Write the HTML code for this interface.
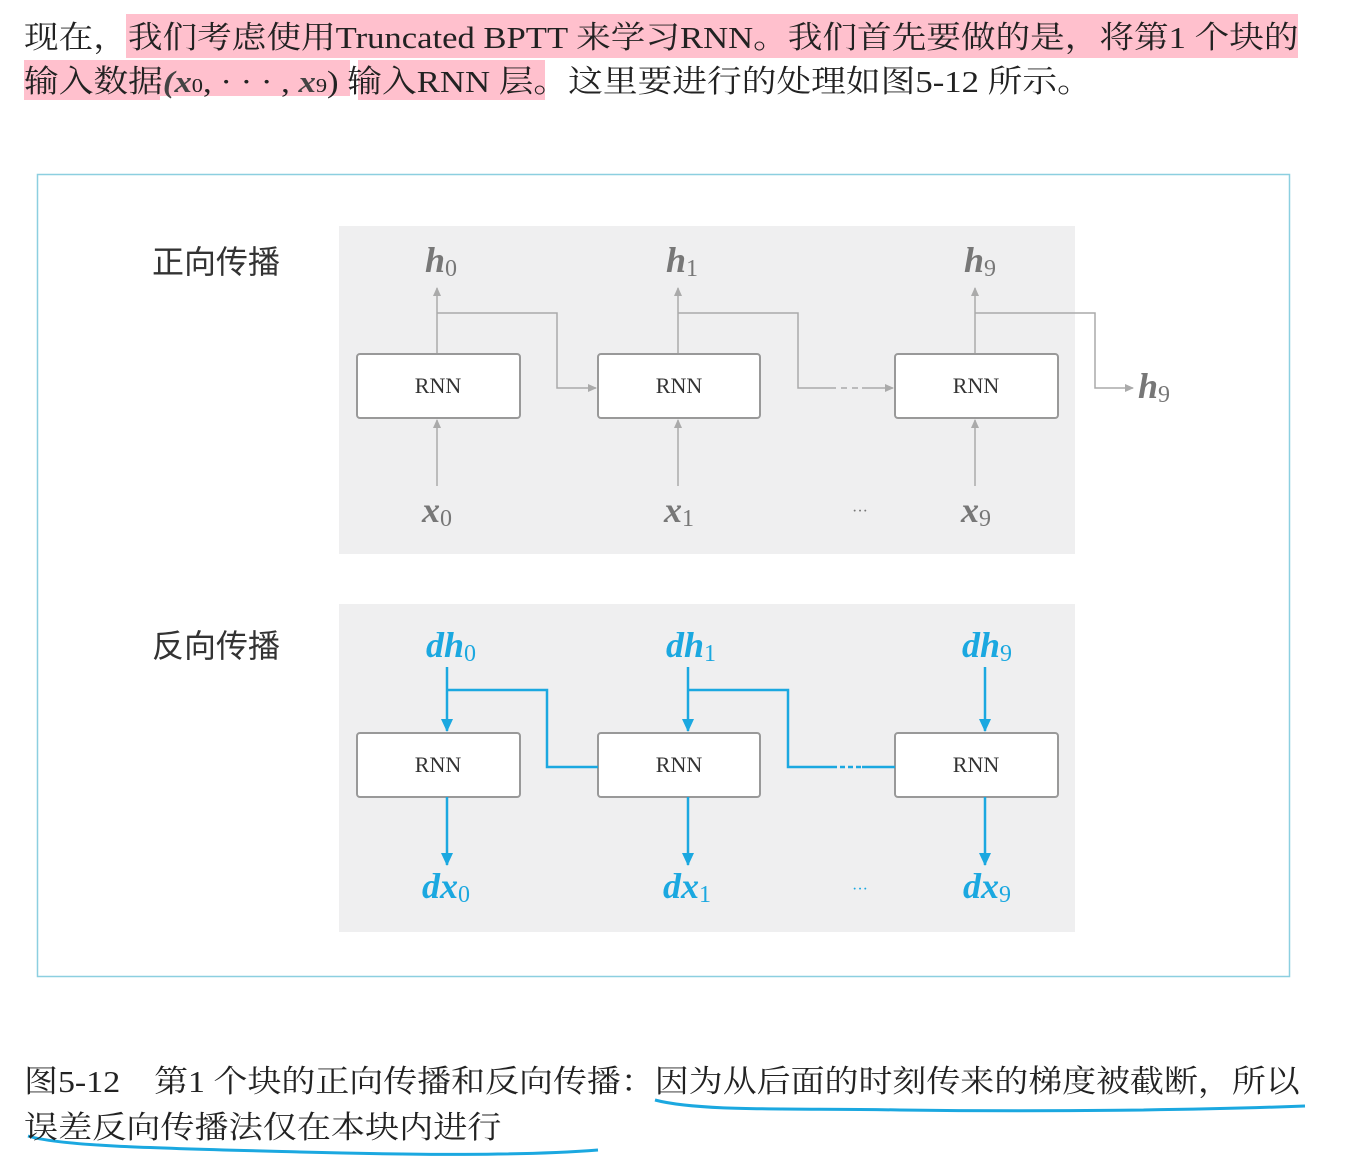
<!DOCTYPE html>
<html><head><meta charset="utf-8"><style>
body{margin:0;background:#fff;width:1346px;height:1164px;overflow:hidden;position:relative;font-family:"Liberation Serif","Noto Serif CJK SC",serif;}
.t{position:absolute;font-size:31px;color:#222;white-space:nowrap;line-height:44px;transform-origin:0 0;}
</style></head><body>
<div style="position:absolute;left:126px;top:14px;width:1172px;height:44px;background:#ffc0cd"></div>
<div style="position:absolute;left:24px;top:60px;width:136px;height:40px;background:#ffc0cd"></div>
<div style="position:absolute;left:160px;top:60px;width:190px;height:36px;background:#ffc0cd"></div>
<div style="position:absolute;left:358px;top:60px;width:187px;height:40px;background:#ffc0cd"></div>
<div class="t" style="left:24px;top:16px;transform:scaleX(1.117)">现在，我们考虑使用Truncated BPTT 来学习RNN。我们首先要做的是，将第1 个块的</div>
<div class="t" style="left:24px;top:60px;transform:scaleX(1.12)">输入数据<span style="font-style:italic;font-weight:bold;color:#444">(x</span><span style="font-size:20px">0</span>, · · · , <span style="font-style:italic;font-weight:bold;color:#444">x</span><span style="font-size:20px">9</span>) 输入RNN 层。这里要进行的处理如图5-12 所示。</div>

<svg width="1346" height="1164" style="position:absolute;left:0;top:0" xmlns="http://www.w3.org/2000/svg">
<defs>
<marker id="g" markerWidth="10" markerHeight="10" refX="8" refY="4" orient="auto" markerUnits="userSpaceOnUse"><path d="M0,0 L9,4 L0,8 z" fill="#aaa"/></marker>
<marker id="b" markerWidth="14" markerHeight="14" refX="12" refY="6" orient="auto" markerUnits="userSpaceOnUse"><path d="M0,0 L13,6 L0,12 z" fill="#1ba8e0"/></marker>
</defs>
<rect x="37.5" y="174.5" width="1252" height="802" fill="#fff" stroke="#8ccfe0" stroke-width="1.5"/>
<rect x="339" y="226" width="736" height="328" fill="#efeff0"/>
<rect x="339" y="604" width="736" height="328" fill="#efeff0"/>
<g font-family="Liberation Sans,Noto Sans CJK SC,sans-serif" font-size="32" fill="#333">
<text x="152" y="273">正向传播</text><text x="152" y="657">反向传播</text></g>
<g fill="none" stroke="#aaa" stroke-width="1.5">
<path d="M437,354 V288" marker-end="url(#g)"/><path d="M678,354 V288" marker-end="url(#g)"/><path d="M975,354 V288" marker-end="url(#g)"/>
<path d="M437,486 V420" marker-end="url(#g)"/><path d="M678,486 V420" marker-end="url(#g)"/><path d="M975,486 V420" marker-end="url(#g)"/>
<path d="M437,313 H557 V388 H596" marker-end="url(#g)"/>
<path d="M678,313 H798 V388 H830"/><path d="M830,388 H862" stroke-dasharray="6 5"/><path d="M862,388 H893" marker-end="url(#g)"/>
<path d="M975,313 H1095 V388 H1133" marker-end="url(#g)"/>
</g>
<g fill="#fff" stroke="#999" stroke-width="2">
<rect x="357" y="354" width="163" height="64" rx="3"/><rect x="598" y="354" width="162" height="64" rx="3"/><rect x="895" y="354" width="163" height="64" rx="3"/>
<rect x="357" y="733" width="163" height="64" rx="3"/><rect x="598" y="733" width="162" height="64" rx="3"/><rect x="895" y="733" width="163" height="64" rx="3"/>
</g>
<g font-family="Liberation Serif,serif" font-size="22" fill="#333" text-anchor="middle">
<text x="438" y="393">RNN</text><text x="679" y="393">RNN</text><text x="976" y="393">RNN</text>
<text x="438" y="772">RNN</text><text x="679" y="772">RNN</text><text x="976" y="772">RNN</text>
</g>
<g font-family="Liberation Serif,serif" font-size="36" font-style="italic" font-weight="bold" fill="#777">
<text x="425" y="272">h<tspan font-size="24" font-style="normal" font-weight="normal" dy="4">0</tspan></text>
<text x="666" y="272">h<tspan font-size="24" font-style="normal" font-weight="normal" dy="4">1</tspan></text>
<text x="964" y="272">h<tspan font-size="24" font-style="normal" font-weight="normal" dy="4">9</tspan></text>
<text x="1138" y="398">h<tspan font-size="24" font-style="normal" font-weight="normal" dy="4">9</tspan></text>
<text x="422" y="522">x<tspan font-size="24" font-style="normal" font-weight="normal" dy="4">0</tspan></text>
<text x="664" y="522">x<tspan font-size="24" font-style="normal" font-weight="normal" dy="4">1</tspan></text>
<text x="961" y="522">x<tspan font-size="24" font-style="normal" font-weight="normal" dy="4">9</tspan></text>
</g>
<text x="852" y="516" font-size="16" fill="#777">···</text>
<text x="852" y="894" font-size="16" fill="#1ba8e0">···</text>
<g fill="none" stroke="#1ba8e0" stroke-width="2.5">
<path d="M447,667 V731" marker-end="url(#b)"/><path d="M688,667 V731" marker-end="url(#b)"/><path d="M985,667 V731" marker-end="url(#b)"/>
<path d="M447,797 V865" marker-end="url(#b)"/><path d="M688,797 V865" marker-end="url(#b)"/><path d="M985,797 V865" marker-end="url(#b)"/>
<path d="M447,690 H547 V767 H598"/>
<path d="M688,690 H788 V767 H832"/><path d="M832,767 H862" stroke-dasharray="5 3"/><path d="M862,767 H895"/>
</g>
<g font-family="Liberation Serif,serif" font-size="36" font-style="italic" font-weight="bold" fill="#1ba8e0">
<text x="426" y="657">dh<tspan font-size="24" font-style="normal" font-weight="normal" dy="4">0</tspan></text>
<text x="666" y="657">dh<tspan font-size="24" font-style="normal" font-weight="normal" dy="4">1</tspan></text>
<text x="962" y="657">dh<tspan font-size="24" font-style="normal" font-weight="normal" dy="4">9</tspan></text>
<text x="422" y="898">dx<tspan font-size="24" font-style="normal" font-weight="normal" dy="4">0</tspan></text>
<text x="663" y="898">dx<tspan font-size="24" font-style="normal" font-weight="normal" dy="4">1</tspan></text>
<text x="963" y="898">dx<tspan font-size="24" font-style="normal" font-weight="normal" dy="4">9</tspan></text>
</g>
<path d="M655,1100 C700,1112 800,1108 900,1110 C1050,1112 1200,1110 1305,1106" fill="none" stroke="#1ba8e0" stroke-width="3"/>
<path d="M28,1136 C60,1146 150,1148 300,1152 C420,1155 520,1156 598,1150" fill="none" stroke="#1ba8e0" stroke-width="3"/>
</svg>
<div class="t" style="left:24px;top:1060px;transform:scaleX(1.095)">图5-12　第1 个块的正向传播和反向传播：因为从后面的时刻传来的梯度被截断，所以</div>
<div class="t" style="left:24px;top:1106px;transform:scaleX(1.1)">误差反向传播法仅在本块内进行</div>
</body></html>
